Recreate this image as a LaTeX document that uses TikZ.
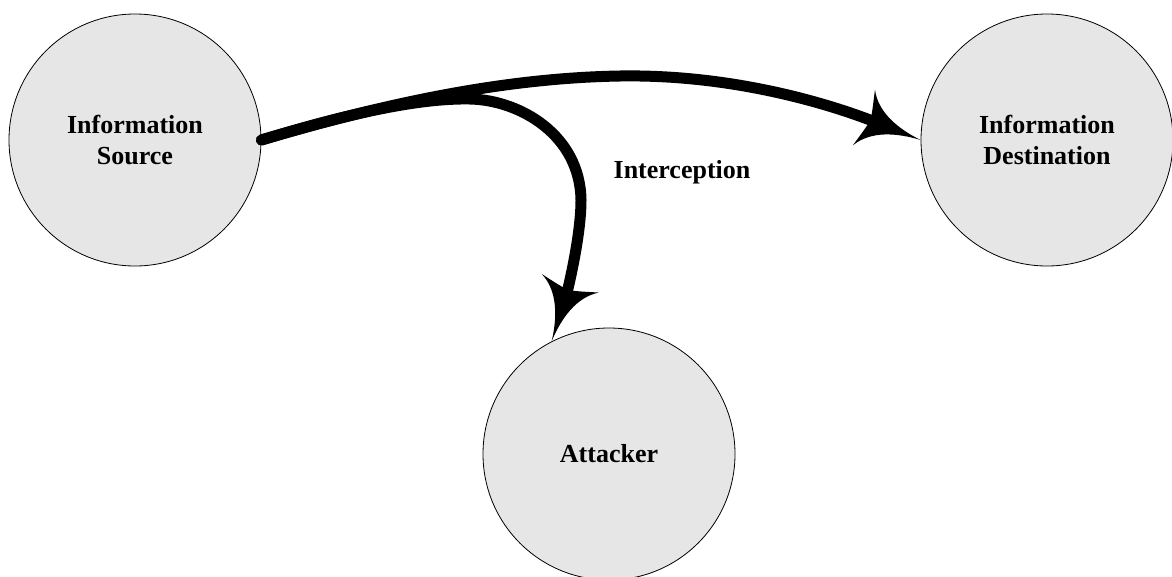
\documentclass[tikz,border=0pt]{standalone}
\usepackage{fontspec}
\setmainfont{Liberation Serif}
\usetikzlibrary{arrows.meta}
\definecolor{discfill}{RGB}{230,230,230}

% barbed arrow head with concave sides
\pgfdeclarearrow{
  name = Cusp,
  setup code = {
    \pgfarrowssettipend{0pt}
    \pgfarrowssetbackend{-61pt}
    \pgfarrowssetvisualbackend{-54pt}
    \pgfarrowssetlineend{-48pt}
    \pgfarrowshullpoint{0pt}{0pt}
    \pgfarrowshullpoint{-61pt}{30pt}
    \pgfarrowshullpoint{-61pt}{-30pt}
  },
  drawing code = {
    \pgfpathmoveto{\pgfqpoint{0pt}{0pt}}
    \pgfpathcurveto{\pgfqpoint{-25pt}{2pt}}{\pgfqpoint{-50pt}{10pt}}{\pgfqpoint{-61pt}{30pt}}
    \pgfpathcurveto{\pgfqpoint{-58pt}{18pt}}{\pgfqpoint{-55pt}{8pt}}{\pgfqpoint{-54pt}{0pt}}
    \pgfpathcurveto{\pgfqpoint{-55pt}{-8pt}}{\pgfqpoint{-58pt}{-18pt}}{\pgfqpoint{-61pt}{-30pt}}
    \pgfpathcurveto{\pgfqpoint{-50pt}{-10pt}}{\pgfqpoint{-25pt}{-2pt}}{\pgfqpoint{0pt}{0pt}}
    \pgfpathclose
    \pgfusepathqfill
  }
}

\tikzset{
  disc/.style={circle, draw=black, line width=0.8pt, fill=discfill,
    minimum size=252pt, inner sep=0pt, align=center},
  flow/.style={line width=11pt, line cap=round, -Cusp},
}

\begin{document}
\begin{tikzpicture}[x=1pt, y=-1pt, font=\bfseries\fontsize{26}{31}\selectfont]
  \useasboundingbox (0,0) rectangle (1172,576);

  \node[disc] (src) at (135,140) {Information\\Source};
  \node[disc] (dst) at (1047,140) {Information\\Destination};
  \node[disc] (att) at (609,454) {Attacker};
  \node[anchor=base] (lbl) at (682,178) {Interception};

  % normal flow
  \draw[flow] (src.east) .. controls (380,105) and (500,78) .. (620,76)
    .. controls (740,74) and (840,108) .. (dst.west);
  % intercepted flow
  \draw[flow] (src.east) .. controls (350,113) and (420,98) .. (470,99)
    .. controls (520,100) and (580,135) .. (581,200)
    .. controls (581,240) and (565,300) .. (att.117);
\end{tikzpicture}
\end{document}
